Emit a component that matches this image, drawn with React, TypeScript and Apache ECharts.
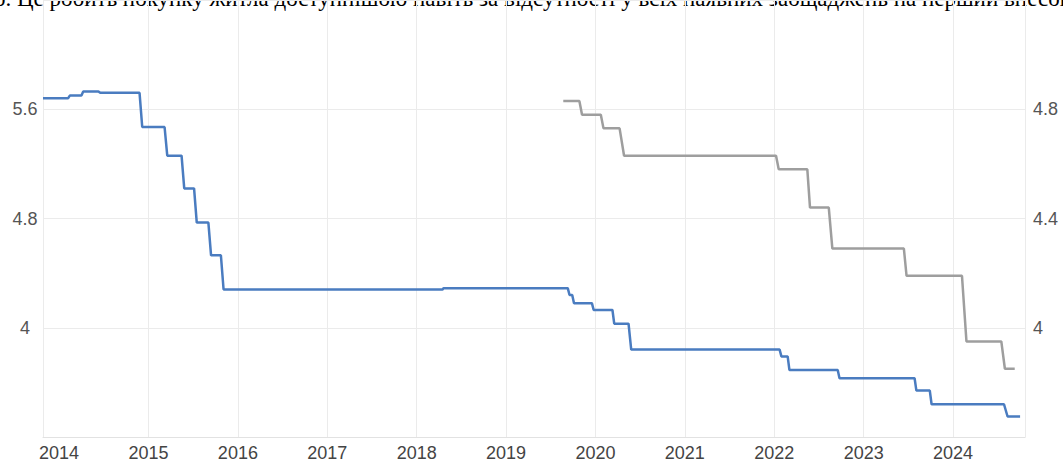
import React, { useEffect, useRef } from "react";
import * as echarts from "echarts";

const titleText =
  "о. Це робить покупку житла доступнішою навіть за відсутності у всіх наявних заощаджень на перший внесок";

const yearLabels = [2014, 2015, 2016, 2017, 2018, 2019, 2020, 2021, 2022, 2023, 2024];
const gridYears = [2015, 2016, 2017, 2018, 2019, 2020, 2021, 2022, 2023, 2024];

// Blue series (left axis)
const blueDates = [
  2013.82, 2014.1, 2014.12, 2014.25, 2014.27, 2014.44, 2014.46, 2014.9, 2014.93,
  2015.18, 2015.21, 2015.37, 2015.4, 2015.51, 2015.54, 2015.67, 2015.7, 2015.81,
  2015.84, 2018.29, 2018.3, 2019.69, 2019.71, 2019.74, 2019.76, 2019.96, 2019.98,
  2020.19, 2020.21, 2020.37, 2020.4, 2022.06, 2022.08, 2022.15, 2022.17, 2022.71,
  2022.73, 2023.57, 2023.59, 2023.74, 2023.76, 2024.57, 2024.61, 2024.75,
];
const blueValues = [
  5.68, 5.68, 5.7, 5.7, 5.73, 5.73, 5.72, 5.72, 5.47,
  5.47, 5.26, 5.26, 5.02, 5.02, 4.77, 4.77, 4.53, 4.53,
  4.28, 4.28, 4.29, 4.29, 4.24, 4.24, 4.18, 4.18, 4.13,
  4.13, 4.03, 4.03, 3.84, 3.84, 3.79, 3.79, 3.69, 3.69,
  3.63, 3.63, 3.54, 3.54, 3.44, 3.44, 3.35, 3.35,
];

// Grey series (right axis)
const greyDates = [
  2019.64, 2019.82, 2019.85, 2020.06, 2020.09, 2020.27, 2020.32, 2022.02, 2022.05,
  2022.37, 2022.4, 2022.61, 2022.65, 2023.45, 2023.48, 2024.1, 2024.15, 2024.54,
  2024.58, 2024.69,
];
const greyValues = [
  4.83, 4.83, 4.78, 4.78, 4.73, 4.73, 4.63, 4.63, 4.58,
  4.58, 4.44, 4.44, 4.29, 4.29, 4.19, 4.19, 3.95, 3.95,
  3.85, 3.85,
];

export default function App() {
  const ref = useRef<HTMLDivElement>(null);
  useEffect(() => {
    if (!ref.current) return;
    const chart = echarts.init(ref.current, null, { renderer: "svg" });
    const gridColor = "#ebebeb";
    const labelFont = "Liberation Sans, Arial, sans-serif";
    chart.setOption({
      animation: false,
      backgroundColor: "#ffffff",
      grid: { left: 43, right: 38, top: 0, bottom: 25, containLabel: false },
      xAxis: {
        type: "value",
        min: 2013.82,
        max: 2024.805,
        axisLine: { show: true, lineStyle: { color: "#e2e2e2", width: 1 } },
        axisTick: { show: false, customValues: gridYears },
        splitLine: { show: true, lineStyle: { color: gridColor, width: 1 } },
        axisLabel: {
          customValues: yearLabels,
          color: "#444",
          fontFamily: labelFont,
          fontSize: 18,
          margin: 7,
          formatter: (v: number) => String(Math.round(v)),
        },
      },
      yAxis: [
        {
          type: "value",
          min: 3.2,
          max: 6.4,
          interval: 0.8,
          position: "left",
          axisLine: { show: true, lineStyle: { color: gridColor } },
          axisTick: { show: false },
          splitLine: { show: true, lineStyle: { color: gridColor, width: 1 } },
          axisLabel: {
            color: "#555",
            fontFamily: labelFont,
            fontSize: 18,
            align: "center",
            margin: 18,
            formatter: (v: number) =>
              Math.abs(v - 3.2) < 1e-6 || Math.abs(v - 6.4) < 1e-6 ? "" : String(Number(v.toFixed(1))),
          },
        },
        {
          type: "value",
          min: 3.6,
          max: 5.2,
          interval: 0.4,
          position: "right",
          axisLine: { show: true, lineStyle: { color: gridColor } },
          axisTick: { show: false },
          splitLine: { show: false },
          axisLabel: {
            color: "#555",
            fontFamily: labelFont,
            fontSize: 18,
            align: "left",
            margin: 8,
            formatter: (v: number) =>
              Math.abs(v - 3.6) < 1e-6 || Math.abs(v - 5.2) < 1e-6 ? "" : String(Number(v.toFixed(1))),
          },
        },
      ],
      series: [
        {
          type: "line",
          yAxisIndex: 0,
          data: blueDates.map((d, i) => [d, blueValues[i]]),
          showSymbol: false,
          lineStyle: { color: "#4a7cc0", width: 2.5 },
          itemStyle: { color: "#4a7cc0" },
        },
        {
          type: "line",
          yAxisIndex: 1,
          data: greyDates.map((d, i) => [d, greyValues[i]]),
          showSymbol: false,
          lineStyle: { color: "#9e9e9e", width: 2.5 },
          itemStyle: { color: "#9e9e9e" },
        },
      ],
      graphic: [
        {
          type: "text",
          x: -6,
          y: -2,
          silent: true,
          style: {
            text: titleText,
            fill: "#000",
            font: "23px 'Liberation Serif', 'Times New Roman', serif",
            verticalAlign: "middle",
            align: "left",
          },
        },
      ],
    });
    return () => chart.dispose();
  }, []);
  return (
    <div
      ref={ref}
      style={{ position: "absolute", left: 0, top: 0, width: 1063, height: 462 }}
    />
  );
}
